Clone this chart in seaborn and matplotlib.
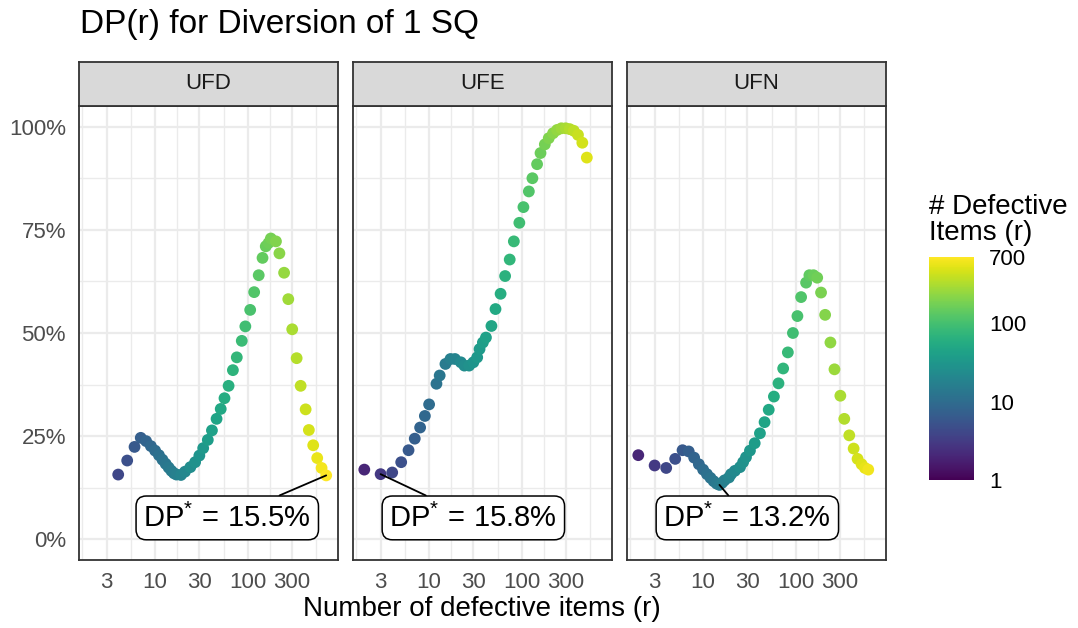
import numpy as np
import pandas as pd
import matplotlib
matplotlib.use("Agg")
import matplotlib.pyplot as plt
import seaborn as sns
from matplotlib.colors import LogNorm
from matplotlib.cm import ScalarMappable
from matplotlib.ticker import FixedLocator, NullFormatter

# ---------------- data ----------------
panels = ["UFD", "UFE", "UFN"]

ufd_r = [4, 5, 6, 7, 8, 9, 10, 11, 12, 13, 14, 15, 16, 17, 19, 21, 24, 27, 30, 33, 37,
         41, 46, 51, 56, 62, 69, 76, 86, 94, 106, 117, 131, 144, 156, 167, 177,
         201, 219, 246, 273, 301, 336, 371, 420, 455, 507, 560, 624, 700]
ufd_dp = [15.7, 19.1, 22.4, 24.6, 23.8, 22.6, 21.5, 20.4, 19.3, 18.3, 17.4, 16.6, 16.0, 15.7,
          15.6, 16.4, 17.5, 18.7, 20.3, 22.1, 24.1,
          26.4, 29.2, 31.6, 34.2, 37.2, 41.0, 44.1, 48.1, 51.6,
          55.6, 59.9, 64.0, 68.2, 71.0, 71.8, 72.9,
          72.2, 69.3, 64.6, 58.2, 50.9, 43.9, 37.2,
          31.5, 26.5, 22.8, 19.7, 17.3, 15.5]

ufe_r = [2, 3, 4, 5, 6, 7, 8, 9, 10, 12, 13, 15, 17, 19, 22, 24, 27, 30, 33, 35, 38, 41,
         47, 52, 59, 66, 74, 82, 94, 104, 119, 130, 146, 159, 177, 195, 217, 240, 267,
         297, 328, 363, 403, 449, 502]
ufe_dp = [16.9, 15.8, 16.2, 18.7, 21.6, 24.4, 27.1, 29.9, 32.7,
          37.7, 39.7, 42.5, 43.7, 43.7, 42.9, 42.1, 42.1, 42.9, 44.1, 46.1, 47.7, 48.9,
          51.7, 55.8, 59.5, 63.8, 67.8, 72.2, 76.7, 80.5, 84.3, 87.5,
          90.9, 93.6, 95.7, 97.2, 98.4, 99.2, 99.6, 99.6, 99.4, 99.0,
          98.0, 96.1, 92.5]

ufn_r = [2, 3, 4, 5, 6, 7, 8, 9, 10, 11, 12, 13, 14, 15, 16, 17, 19, 20, 22, 25, 27, 29,
         32, 36, 41, 46, 51, 58, 65, 73, 82, 93, 104, 114, 129, 140, 155, 170, 187, 207,
         236, 261, 302, 333, 377, 420, 463, 512, 556, 604]
ufn_dp = [20.4, 17.9, 17.3, 19.5, 21.6, 21.3, 19.8, 18.2, 16.9, 15.8, 14.9, 14.1, 13.5, 13.2,
          13.7, 14.3, 15.0, 15.8, 16.6, 17.5, 18.7, 19.9, 21.5, 23.3, 25.7,
          28.4, 31.4, 34.6, 37.8, 41.4, 45.3, 50.0, 54.1, 58.7, 62.2,
          64.0, 64.0, 63.4, 59.8, 54.4, 47.7, 41.2, 34.8, 29.2, 25.2,
          22.0, 19.5, 18.2, 17.3, 16.9]

# optimal points (DP*) and label texts
opt_r = [700, 3, 15]
opt_dp = [15.5, 15.8, 13.2]
opt_text = ["15.5%", "15.8%", "13.2%"]
label_x = [60, 30, 30]
label_y = [5.2, 5.2, 5.2]

x_ticks = [3, 10, 30, 100, 300]
x_ticklabels = ["3", "10", "30", "100", "300"]
y_ticks = [0, 25, 50, 75, 100]
y_ticklabels = ["0%", "25%", "50%", "75%", "100%"]
cbar_ticks = [1, 10, 100, 700]
cbar_ticklabels = ["1", "10", "100", "700"]

df = pd.concat([
    pd.DataFrame({"panel": "UFD", "r": ufd_r, "dp": ufd_dp}),
    pd.DataFrame({"panel": "UFE", "r": ufe_r, "dp": ufe_dp}),
    pd.DataFrame({"panel": "UFN", "r": ufn_r, "dp": ufn_dp}),
])

# ---------------- style ----------------
sns.set_style("white")
plt.rcParams["font.family"] = ["Liberation Sans", "DejaVu Sans"]
plt.rcParams["mathtext.fontset"] = "custom"
plt.rcParams["mathtext.rm"] = "Liberation Sans"
plt.rcParams["mathtext.it"] = "Liberation Sans:italic"
plt.rcParams["mathtext.bf"] = "Liberation Sans:bold"

W, H = 1078, 628
fig = plt.figure(figsize=(W / 100, H / 100), dpi=100)

norm = LogNorm(vmin=1, vmax=700)
cmap = plt.get_cmap("viridis")

lefts = [78.5, 352.5, 626.5]
pw = 259.5
ptop, pbot = 106, 560
stop = 61.7

# x-limits: data range 2..700 with 5% expansion (log space)
lo, hi = np.log10(2), np.log10(700)
ext = 0.05 * (hi - lo)
xlim = (10 ** (lo - ext), 10 ** (hi + ext))

# minor gridline positions (midpoints of majors in log space, ggplot style)
lt = np.log10(x_ticks)
ext_b = np.concatenate([[lt[0] - (lt[1] - lt[0])], lt, [lt[-1] + (lt[1] - lt[0])]])
x_minor = 10 ** ((ext_b[:-1] + ext_b[1:]) / 2)
y_minor = [12.5, 37.5, 62.5, 87.5]

border = "#333333"
for i, name in enumerate(panels):
    ax = fig.add_axes([lefts[i] / W, (H - pbot) / H, pw / W, (pbot - ptop) / H])
    sub = df[df["panel"] == name]
    sns.scatterplot(data=sub, x="r", y="dp", hue="r", hue_norm=norm, palette="viridis",
                    legend=False, s=72, linewidth=0, ax=ax, zorder=3)
    ax.set_xscale("log")
    ax.set_xlim(*xlim)
    ax.set_ylim(-5, 105)
    ax.set_xticks(x_ticks)
    ax.set_xticklabels(x_ticklabels)
    ax.xaxis.set_minor_locator(FixedLocator(x_minor))
    ax.xaxis.set_minor_formatter(NullFormatter())
    ax.set_yticks(y_ticks)
    ax.set_yticklabels(y_ticklabels)
    ax.yaxis.set_minor_locator(FixedLocator(y_minor))
    ax.set_axisbelow(True)
    ax.grid(which="major", color="#EBEBEB", lw=1.6)
    ax.grid(which="minor", color="#EBEBEB", lw=1.0)
    ax.set_xlabel("")
    ax.set_ylabel("")
    for sp in ax.spines.values():
        sp.set_color(border)
        sp.set_linewidth(1.3)
    ax.tick_params(which="major", length=5, width=1.1, color=border,
                   labelsize=16, labelcolor="#4D4D4D", pad=4)
    ax.tick_params(which="minor", length=0)
    if i > 0:
        ax.tick_params(axis="y", left=False, labelleft=False)

    ax.annotate(r"$\mathrm{DP}^{*}\,=\,\mathrm{" + opt_text[i].replace("%", r"\%") + "}$",
                xy=(opt_r[i], opt_dp[i]), xytext=(label_x[i], label_y[i]),
                textcoords="data", ha="center", va="center", fontsize=21, color="black",
                bbox=dict(boxstyle="round,pad=0.25,rounding_size=0.35", fc="white",
                          ec="black", lw=1.1),
                arrowprops=dict(arrowstyle="-", color="black", lw=1.3,
                                shrinkA=0, shrinkB=0),
                zorder=4)

    # strip
    sax = fig.add_axes([lefts[i] / W, (H - ptop) / H, pw / W, (ptop - stop) / H])
    sax.set_facecolor("#D9D9D9")
    sax.set_xticks([])
    sax.set_yticks([])
    for sp in sax.spines.values():
        sp.set_color(border)
        sp.set_linewidth(1.3)
    sax.text(0.5, 0.5, name, ha="center", va="center", fontsize=16,
             color="#1A1A1A", transform=sax.transAxes)

# colour bar
cax = fig.add_axes([929 / W, (H - 480) / H, 45 / W, 223 / H])
sm = ScalarMappable(norm=norm, cmap=cmap)
cbar = fig.colorbar(sm, cax=cax)
cbar.outline.set_visible(False)
cbar.set_ticks(cbar_ticks)
cbar.set_ticklabels(cbar_ticklabels)
cax.minorticks_off()
cax.yaxis.set_ticks_position("both")
cax.tick_params(which="major", direction="in", length=6.5, width=1.0, color="white",
                left=True, right=True, labelleft=False, labelright=True,
                labelsize=16, labelcolor="black", pad=11)
fig.text(929 / W, 1 - 246 / H, "# Defective\nItems (r)", ha="left", va="bottom",
         fontsize=20, linespacing=1.0, color="black")

# titles
fig.text(80 / W, 1 - 33 / H, "DP(r) for Diversion of 1 SQ", ha="left", va="baseline",
         fontsize=24, color="black")
fig.text(482 / W, 1 - 616 / H, "Number of defective items (r)", ha="center",
         va="baseline", fontsize=20, color="black")

fig.savefig("out.png", dpi=100)
